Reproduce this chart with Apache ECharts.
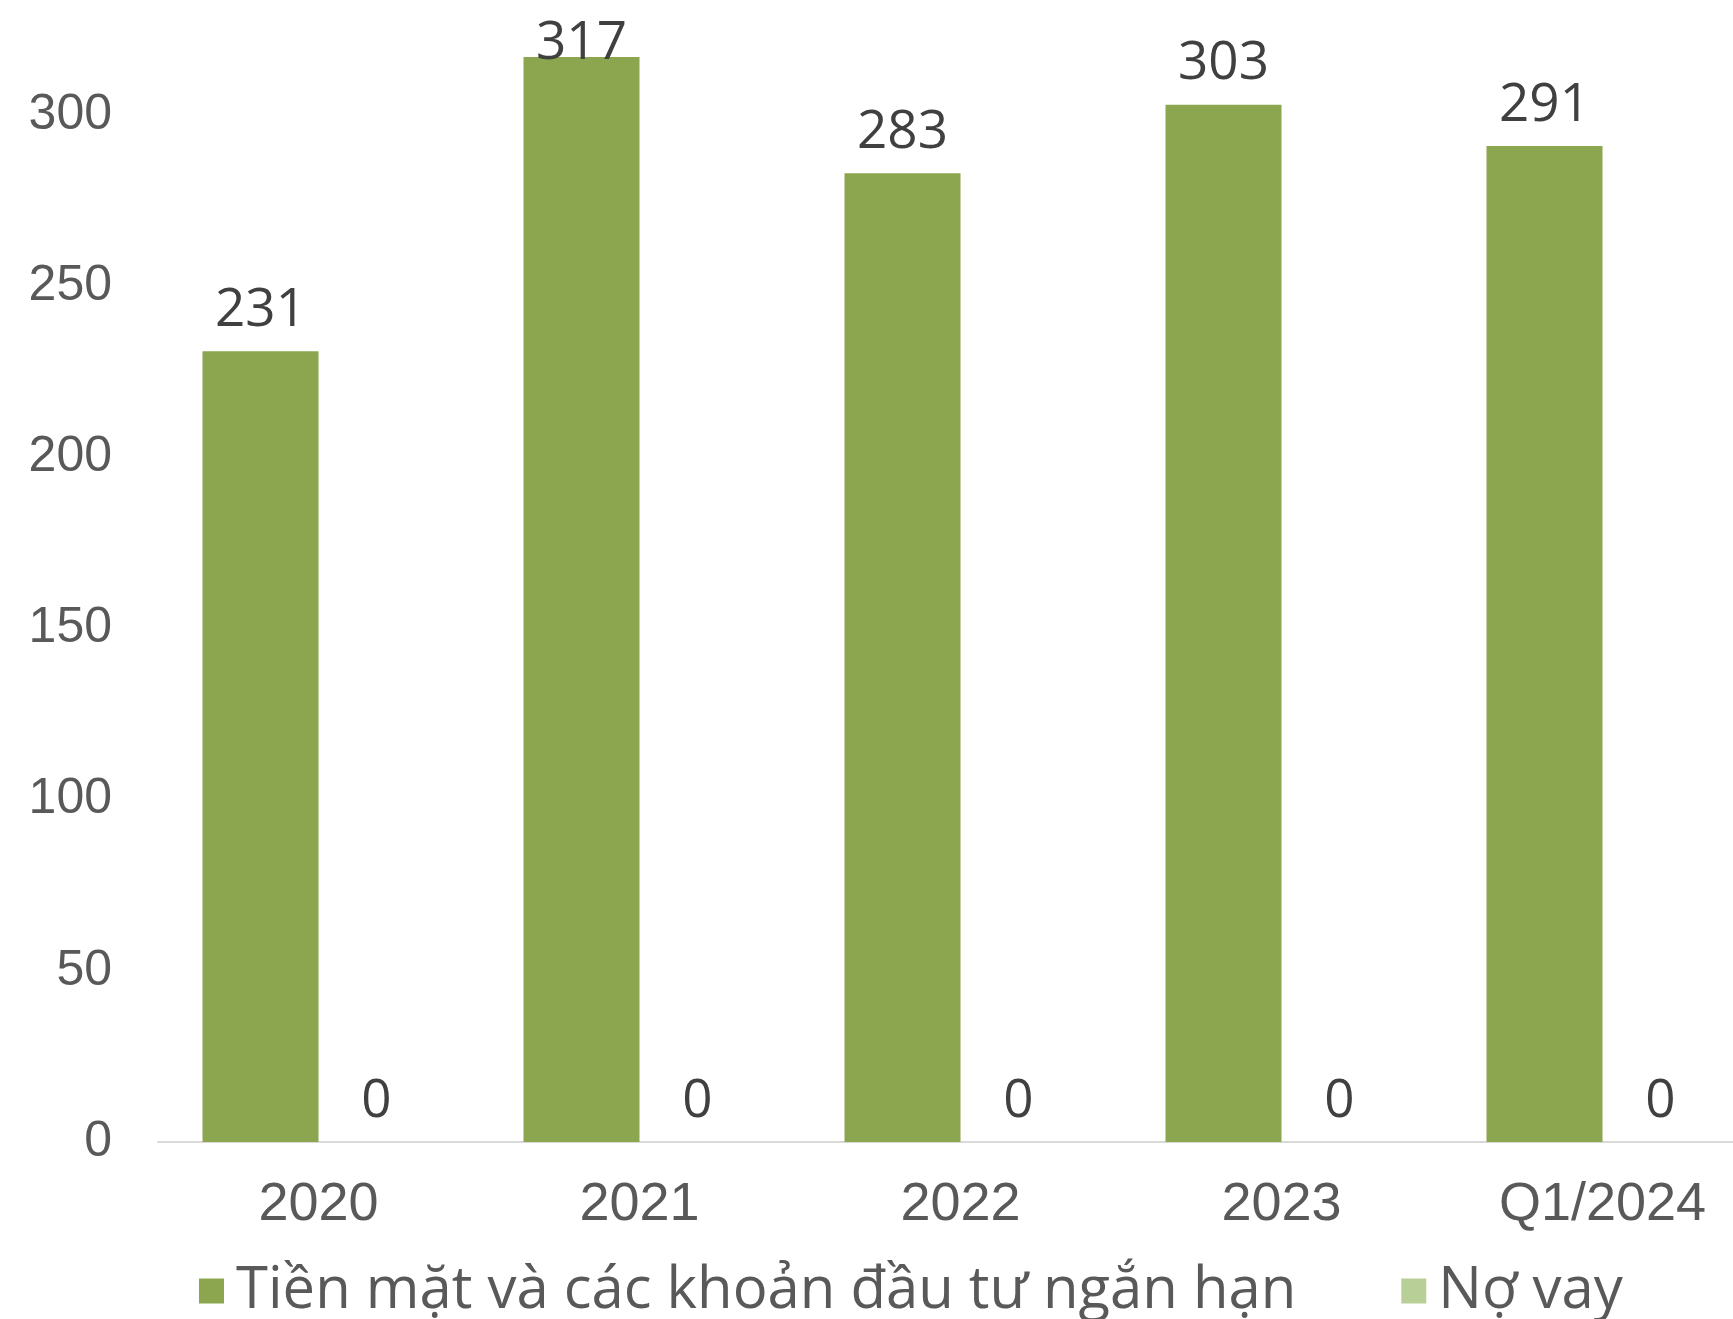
<!DOCTYPE html>
<html>
<head>
<meta charset="utf-8">
<script src="https://cdn.jsdelivr.net/npm/echarts@6/dist/echarts.min.js"></script>
<style>
  html, body { margin: 0; padding: 0; background: #fff; }
  #chart { width: 1733px; height: 1319px; }
</style>
</head>
<body>
<div id="chart"></div>
<script>
// categories and values
var categories = ['2020', '2021', '2022', '2023', 'Q1/2024'];
var cashValues = [231, 317, 283, 303, 291];
var debtValues = [0, 0, 0, 0, 0];
var seriesNames = ['Tiền mặt và các khoản đầu tư ngắn hạn', 'Nợ vay'];

var chart = echarts.init(document.getElementById('chart'));

var labelStyle = {
  show: true,
  position: 'top',
  distance: 14,
  color: '#404040',
  fontFamily: 'Open Sans',
  fontSize: 53
};

// the tallest bar sits at the top edge, its label is pushed down into view
var cashData = cashValues.map(function (v) {
  if (v > 310) {
    return { value: v, label: { offset: [0, 27] } };
  }
  return v;
});

var option = {
  backgroundColor: '#ffffff',
  animation: false,
  grid: {
    left: 158,
    right: -30,
    top: -56,
    bottom: 177,
    outerBoundsMode: 'none',
    containLabel: false
  },
  legend: {
    data: seriesNames,
    left: 199,
    top: 1262,
    padding: 0,
    itemWidth: 25,
    itemHeight: 25,
    itemGap: 105,
    icon: 'rect',
    textStyle: {
      color: '#595959',
      fontFamily: 'Open Sans',
      fontSize: 58,
      padding: [0, 0, 0, 7]
    }
  },
  xAxis: {
    type: 'category',
    data: categories,
    axisLine: { lineStyle: { color: '#D9D9D9', width: 2 } },
    axisTick: { show: false },
    axisLabel: {
      color: '#595959',
      fontFamily: 'Liberation Sans',
      fontSize: 54,
      margin: 36
    }
  },
  yAxis: {
    type: 'value',
    min: 0,
    max: 350,
    interval: 50,
    splitLine: { show: false },
    axisLine: { show: false },
    axisTick: { show: false },
    axisLabel: {
      color: '#595959',
      fontFamily: 'Liberation Sans',
      fontSize: 50,
      margin: 46
    }
  },
  series: [
    {
      name: seriesNames[0],
      type: 'bar',
      data: cashData,
      barWidth: 116,
      barGap: '0%',
      itemStyle: { color: '#8BA64E' },
      label: labelStyle
    },
    {
      name: seriesNames[1],
      type: 'bar',
      data: debtValues,
      barWidth: 116,
      barGap: '0%',
      itemStyle: { color: '#B8CF98' },
      label: labelStyle
    }
  ]
};

chart.setOption(option);
</script>
</body>
</html>
